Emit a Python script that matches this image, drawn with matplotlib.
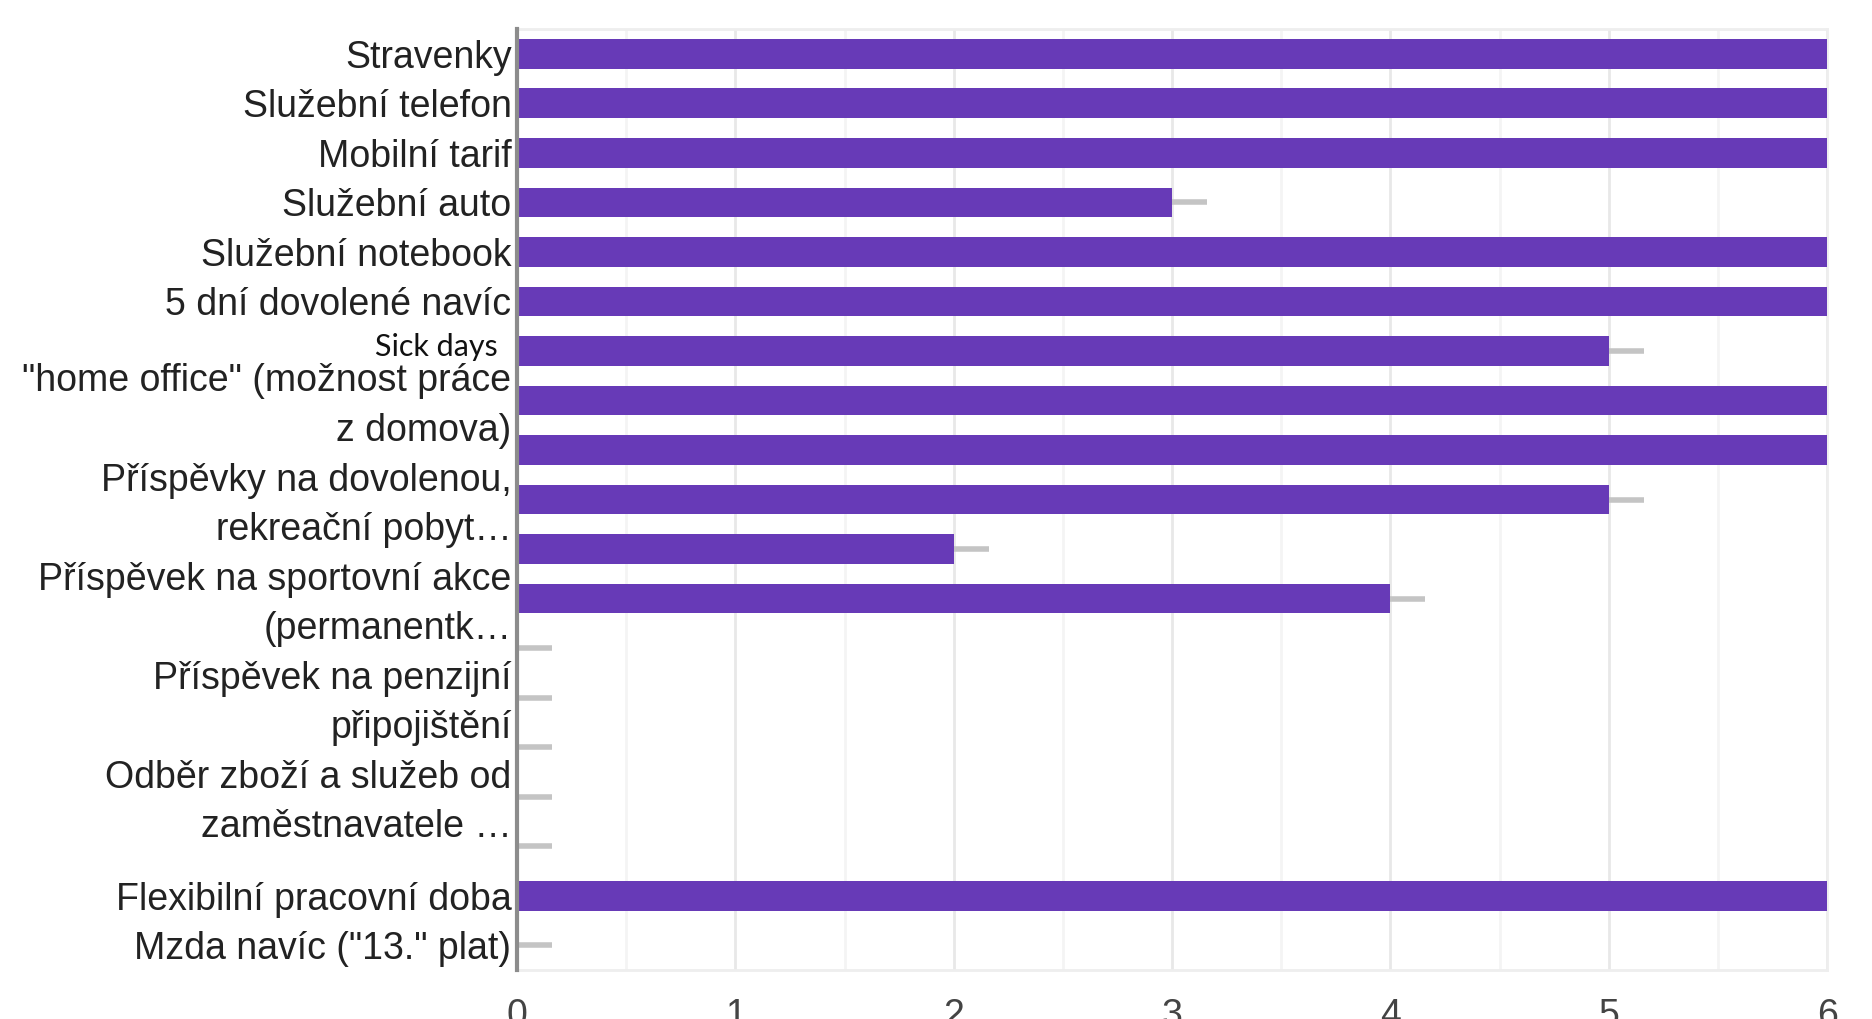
import matplotlib
matplotlib.use("Agg")
from matplotlib import pyplot as plt
from matplotlib.ticker import MultipleLocator
from matplotlib.transforms import ScaledTranslation

# categories as shown (hidden labels in the original are blank)
categories = [
    "Stravenky",
    "Služební telefon",
    "Mobilní tarif",
    "Služební auto",
    "Služební notebook",
    "5 dní dovolené navíc",
    "Sick days",
    "\"home office\" (možnost práce\nz domova)",
    "",
    "Příspěvky na dovolenou,\nrekreační pobyt…",
    "",
    "Příspěvek na sportovní akce\n(permanentk…",
    "",
    "Příspěvek na penzijní\npřipojištění",
    "",
    "Odběr zboží a služeb od\nzaměstnavatele …",
    "",
    "Flexibilní pracovní doba",
    "Mzda navíc (\"13.\" plat)",
]
values = [6, 6, 6, 3, 6, 6, 5, 6, 6, 5, 2, 4, 0, 0, 0, 0, 0, 6, 0]
x_ticks = [0, 1, 2, 3, 4, 5, 6]

plt.rcParams["font.family"] = ["Liberation Sans", "DejaVu Sans"]

figure = plt.figure(figsize=(18.72, 10.19), dpi=100)
axes = figure.add_axes([0.2762, 0.0481, 0.6998, 0.9234])

ypos = list(range(len(categories)))
axes.barh(ypos, values, height=0.6, color="#673ab7", zorder=3,
          xerr=[[0] * len(values), [0.16] * len(values)],
          error_kw=dict(ecolor="#c4c4c4", elinewidth=4, capsize=0, zorder=2))

axes.set_xlim(0, 6)
axes.set_ylim(len(categories) - 0.5, -0.5)

axes.set_xticks(x_ticks)
axes.xaxis.set_minor_locator(MultipleLocator(0.5))
axes.grid(axis="x", which="major", color="#e8e8e8", linewidth=2)
axes.grid(axis="x", which="minor", color="#f4f4f4", linewidth=2)
axes.set_axisbelow(True)

axes.set_yticks(ypos)
axes.set_yticklabels(categories, fontsize=27, color="#222222", linespacing=1.47)
axes.tick_params(axis="y", length=0, pad=4)
axes.tick_params(axis="x", which="both", length=0, pad=20, labelsize=27, labelcolor="#444444")

for label in axes.get_yticklabels():
    text = label.get_text()
    if text == "Sick days":
        label.set_fontfamily(["Lato", "DejaVu Sans"])
        label.set_fontsize(22)
        label.set_color("#111111")
        label.set_transform(label.get_transform() + ScaledTranslation(-0.14, 0.06, figure.dpi_scale_trans))
    elif "\n" in text:
        label.set_transform(label.get_transform() + ScaledTranslation(0, 0.05, figure.dpi_scale_trans))

for side in ["top", "right", "bottom"]:
    axes.spines[side].set_color("#eeeeee")
    axes.spines[side].set_linewidth(2)
axes.spines["left"].set_color("#8c8c8c")
axes.spines["left"].set_linewidth(3)
axes.spines["left"].set_zorder(4)

figure.savefig("out.png", dpi=100)
